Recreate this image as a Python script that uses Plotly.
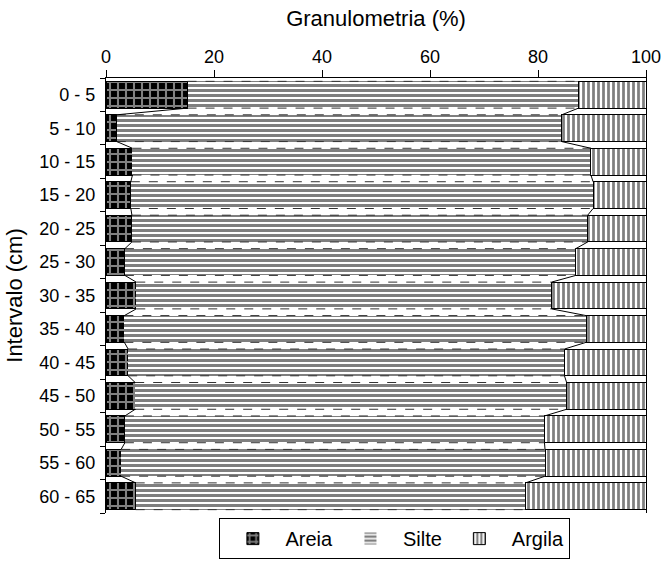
import plotly.graph_objects as go

intervals = ["0 - 5", "5 - 10", "10 - 15", "15 - 20", "20 - 25", "25 - 30", "30 - 35",
             "35 - 40", "40 - 45", "45 - 50", "50 - 55", "55 - 60", "60 - 65"]
areia = [15.1, 2.0, 4.9, 4.6, 4.8, 3.5, 5.6, 3.4, 4.1, 5.4, 3.5, 2.8, 5.5]
areia_silte = [87.5, 84.4, 89.8, 90.2, 89.2, 87.0, 82.5, 88.9, 84.9, 85.3, 81.2, 81.3, 77.7]
silte = [round(s - a, 1) for a, s in zip(areia, areia_silte)]
argila = [round(100 - s, 1) for s in areia_silte]
x_ticks = [0, 20, 40, 60, 80, 100]

pos = list(range(len(intervals)))
half = 0.4
FONT = "Liberation Sans, Arial, sans-serif"

fig = go.Figure()
fig.add_bar(y=pos, x=areia, orientation="h", name="Areia", width=2 * half,
            marker=dict(color="black", line=dict(color="black", width=1),
                        pattern=dict(shape="+", fgcolor="white", bgcolor="black",
                                     size=8, solidity=0.45, fillmode="overlay")))
fig.add_bar(y=pos, x=silte, orientation="h", name="Silte", width=2 * half,
            marker=dict(color="white", line=dict(color="white", width=0),
                        pattern=dict(shape="-", fgcolor="black", bgcolor="white",
                                     size=5, solidity=0.6, fillmode="overlay")))
fig.add_bar(y=pos, x=argila, orientation="h", name="Argila", width=2 * half,
            marker=dict(color="white", line=dict(color="black", width=1),
                        pattern=dict(shape="|", fgcolor="black", bgcolor="white",
                                     size=5, solidity=0.55, fillmode="overlay")))

# dashed top/bottom edges of the Silte bars
dx, dy = [], []
for i, (a, s) in enumerate(zip(areia, areia_silte)):
    for yy in (i - half, i + half):
        dx += [a, s, None]
        dy += [yy, yy, None]
fig.add_scatter(x=dx, y=dy, mode="lines", showlegend=False, hoverinfo="skip",
                line=dict(color="#333333", width=1, dash="dash"))

# connecting lines between consecutive bars
for cum in (areia, areia_silte):
    cx, cy = [], []
    for i in range(len(cum) - 1):
        cx += [cum[i], cum[i + 1], None]
        cy += [i + half, i + 1 - half, None]
    fig.add_scatter(x=cx, y=cy, mode="lines", showlegend=False, hoverinfo="skip",
                    line=dict(color="black", width=1))

# invisible trace to activate the boundary-tick axis
fig.add_scatter(x=[None], y=[None], yaxis="y2", showlegend=False, hoverinfo="skip")

fig.update_layout(
    barmode="stack",
    width=662, height=561,
    margin=dict(l=106, r=16, t=78, b=48, autoexpand=False),
    paper_bgcolor="white", plot_bgcolor="white",
    font=dict(family=FONT, size=18, color="black"),
    xaxis=dict(side="top", range=[0, 100], tickvals=x_ticks, ticks="outside",
               ticklen=7, tickwidth=1, tickcolor="black", showline=True,
               linecolor="black", linewidth=1, showgrid=False, zeroline=False,
               tickfont=dict(size=18), automargin=False,
               title=dict(text="Granulometria (%)", font=dict(size=22), standoff=14)),
    yaxis=dict(range=[len(pos) - 0.5, -0.5], tickvals=pos, ticktext=intervals,
               ticks="", showline=True, mirror=True, linecolor="black", linewidth=1,
               showgrid=False, zeroline=False, tickfont=dict(size=18),
               ticklabelstandoff=6, automargin=False,
               title=dict(text="Intervalo (cm)", font=dict(size=22), standoff=10)),
    yaxis2=dict(overlaying="y", side="left", range=[len(pos) - 0.5, -0.5],
                tickvals=[p - 0.5 for p in pos] + [len(pos) - 0.5],
                showticklabels=False, ticks="outside", ticklen=5, tickwidth=1,
                tickcolor="black", showline=False, showgrid=False, zeroline=False),
    legend=dict(orientation="h", x=0.535, xanchor="center", y=-0.106, yanchor="bottom",
                bordercolor="black", borderwidth=1, font=dict(size=20),
                itemwidth=55, traceorder="normal"),
    bargap=0.2,
)

fig.write_html("out.html")
